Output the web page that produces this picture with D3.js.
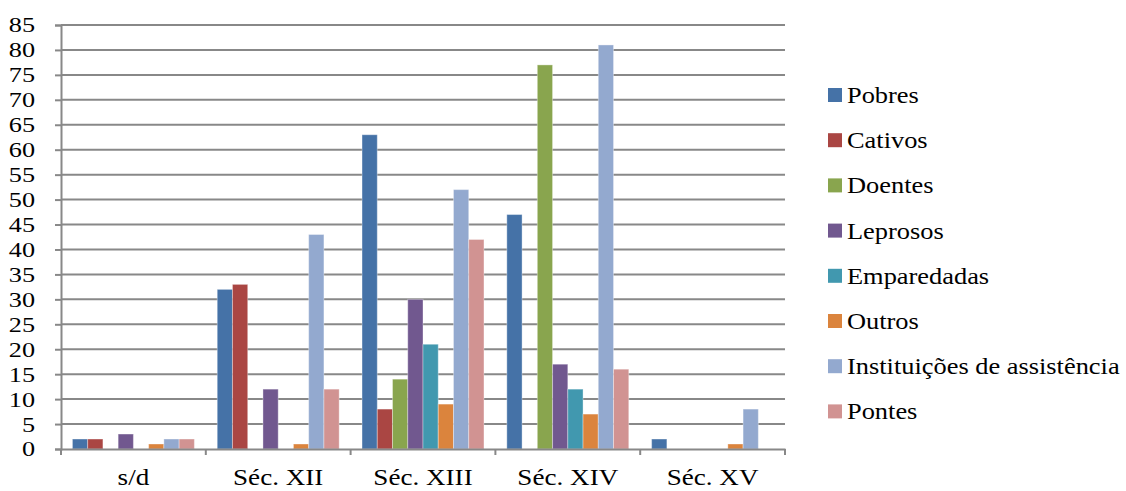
<!DOCTYPE html>
<html>
<head>
<meta charset="utf-8">
<script src="https://cdn.jsdelivr.net/npm/d3@7"></script>
<style>
  html, body { margin: 0; padding: 0; background: #fff; }
  svg { display: block; }
</style>
</head>
<body>
<svg id="chart" width="1126" height="491"></svg>
<script>
// Periods on the x axis
const categories = ["s/d", "Séc. XII", "Séc. XIII", "Séc. XIV", "Séc. XV"];

// One array per beneficiary type, values per period
const pobres        = [2, 32, 63, 47, 2];
const cativos       = [2, 33, 8, 0, 0];
const doentes       = [0, 0, 14, 77, 0];
const leprosos      = [3, 12, 30, 17, 0];
const emparedadas   = [0, 0, 21, 12, 0];
const outros        = [1, 1, 9, 7, 1];
const instituicoes  = [2, 43, 52, 81, 8];
const pontes        = [2, 12, 42, 16, 0];

const seriesNames = ["Pobres", "Cativos", "Doentes", "Leprosos", "Emparedadas",
                     "Outros", "Instituições de assistência", "Pontes"];
const seriesValues = [pobres, cativos, doentes, leprosos, emparedadas, outros, instituicoes, pontes];
const colors = ["#4572A7", "#AA4643", "#89A54E", "#71588F", "#4198AF", "#DB843D", "#93A9CF", "#D19392"];

const yTicks = d3.range(0, 86, 5);

const svg = d3.select("#chart");
const plot = { left: 61, right: 785, top: 25, bottom: 449 };

// Text is set slightly wide, as in the original layout
const FONT = "Liberation Serif";

const x0 = d3.scaleBand()
  .domain(categories)
  .range([plot.left, plot.right])
  .paddingInner(0)
  .paddingOuter(0);

// 150% gap between groups: 8 bars + 1.5 bar widths of gap
const groupPad = 0.75 / 9.5;
const x1 = d3.scaleBand()
  .domain(seriesNames)
  .range([x0.bandwidth() * groupPad, x0.bandwidth() * (1 - groupPad)])
  .padding(0);

const y = d3.scaleLinear().domain([0, 85]).range([plot.bottom, plot.top]);

const gridColor = "#888888";

// Horizontal gridlines
svg.append("g")
  .selectAll("line")
  .data(yTicks.filter(d => d > 0))
  .join("line")
  .attr("x1", plot.left).attr("x2", plot.right)
  .attr("y1", d => y(d)).attr("y2", d => y(d))
  .attr("stroke", gridColor)
  .attr("stroke-width", 2);

// Y axis
const yWiden = 1.25;
const yAxis = d3.axisLeft(y).tickValues(yTicks).tickSize(6).tickPadding(20);
const gy = svg.append("g").attr("transform", `translate(${plot.left},0)`).call(yAxis);
gy.select(".domain").attr("stroke", gridColor).attr("stroke-width", 2);
gy.selectAll(".tick line").attr("stroke", gridColor).attr("stroke-width", 2);
gy.selectAll(".tick text")
  .attr("fill", "#000")
  .attr("x", -26 / yWiden)
  .attr("dy", "0.33em")
  .attr("transform", `scale(${yWiden},1)`)
  .style("font-family", FONT)
  .style("font-size", "21px");

// Bars
const groups = svg.append("g")
  .selectAll("g")
  .data(categories)
  .join("g")
  .attr("transform", d => `translate(${x0(d)},0)`);

groups.selectAll("rect")
  .data((c, ci) => seriesNames.map((s, si) => ({ s, si, v: seriesValues[si][ci] })).filter(d => d.v > 0))
  .join("rect")
  .attr("x", d => x1(d.s))
  .attr("width", x1.bandwidth())
  .attr("y", d => y(d.v))
  .attr("height", d => y(0) - y(d.v))
  .attr("fill", d => colors[d.si])
  .attr("stroke", "#ffffff")
  .attr("stroke-opacity", 0.35)
  .attr("stroke-width", 1);

// X axis
const xWiden = 1.13;
const xAxis = d3.axisBottom(x0).tickSize(0).tickPadding(19);
const gx = svg.append("g").attr("transform", `translate(0,${plot.bottom})`).call(xAxis);
gx.select(".domain").attr("stroke", gridColor).attr("stroke-width", 2);
gx.selectAll(".tick text")
  .attr("fill", "#000")
  .attr("transform", `scale(${xWiden},1)`)
  .style("font-family", FONT)
  .style("font-size", "24px");

// Group separator ticks below the x axis
const sepPositions = categories.map(c => x0(c)).concat([plot.right]);
svg.append("g")
  .selectAll("line")
  .data(sepPositions)
  .join("line")
  .attr("x1", d => d).attr("x2", d => d)
  .attr("y1", plot.bottom).attr("y2", plot.bottom + 6)
  .attr("stroke", gridColor)
  .attr("stroke-width", 2);

// Legend
const legendWiden = 1.1;
const legend = svg.append("g").attr("transform", "translate(828,95)");
const item = legend.selectAll("g")
  .data(seriesNames)
  .join("g")
  .attr("transform", (d, i) => `translate(0,${i * 45.2})`);
item.append("rect")
  .attr("x", 0).attr("y", -7)
  .attr("width", 14).attr("height", 14)
  .attr("fill", (d, i) => colors[i]);
item.append("text")
  .attr("transform", `translate(19,0) scale(${legendWiden},1)`)
  .attr("dy", "0.33em")
  .attr("fill", "#000")
  .style("font-family", FONT)
  .style("font-size", "24px")
  .text(d => d);
</script>
</body>
</html>
